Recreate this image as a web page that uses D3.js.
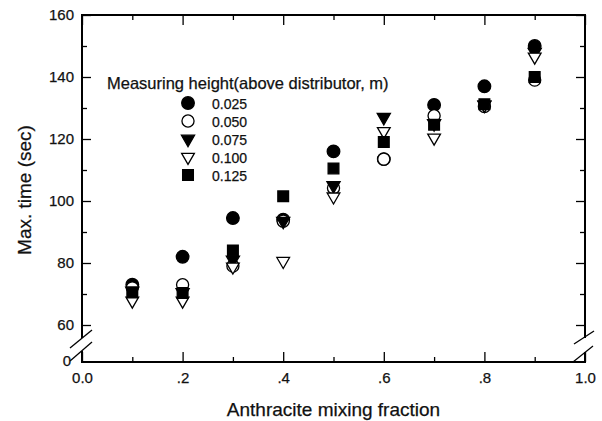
<!DOCTYPE html>
<meta charset="utf-8">
<head>
<style>
  body { margin: 0; background: #fff; }
  text { font-family: "Liberation Sans", Arial, Helvetica, sans-serif; fill: #111; stroke: #111; stroke-width: 0.25px; }
</style>
</head>
<body>
<script src="https://cdnjs.cloudflare.com/ajax/libs/d3/7.8.5/d3.min.js"></script>
<script>

// anthracite mixing fraction
var fractions = [0.1, 0.2, 0.3, 0.4, 0.5, 0.6, 0.7, 0.8, 0.9];
// measuring heights (legend)
var heights = ["0.025", "0.050", "0.075", "0.100", "0.125"];
// max. time (sec) per height
var t025 = [73, 82, 94.5, 94, 116, 113.5, 131, 137, 150];
var t050 = [72, 73, 79, 93.5, 104.2, 113.5, 127.5, 130.5, 139];
var t075 = [71, 70.5, 81, 93.5, 105, 127, 125, 131, 148];
var t100 = [67.8, 67.8, 78.8, 80.6, 101.4, 122.5, 120.4, 131, 146.5];
var t125 = [70.5, 70.3, 84, 101.5, 110.5, 119, 124.6, 131.2, 140];

var xTicks = [0, 0.2, 0.4, 0.6, 0.8, 1.0];
var xTickLabels = ["0.0", ".2", ".4", ".6", ".8", "1.0"];
var xMinor = [0.1, 0.3, 0.5, 0.7, 0.9];
var yTicks = [0, 60, 80, 100, 120, 140, 160];
var yMinor = [70, 90, 110, 130, 150];

var series = [t025, t050, t075, t100, t125];
var symbols = [
  {type: d3.symbolCircle, fill: "#000", rot: 0, size: 125},
  {type: d3.symbolCircle, fill: "#fff", rot: 0, size: 115},
  {type: d3.symbolTriangle, fill: "#000", rot: 180, size: 75},
  {type: d3.symbolTriangle, fill: "#fff", rot: 180, size: 70},
  {type: d3.symbolSquare, fill: "#000", rot: 0, size: 115}
];

var width = 602, height = 421;
var pLeft = 82, pRight = 585, pTop = 15, pBottom = 362;

var svg = d3.select("body").append("svg")
    .attr("width", width)
    .attr("height", height);

var x = d3.scaleLinear().domain([0, 1]).range([pLeft, pRight]);
// broken axis: 0 sits just below the break, 60..160 linear
var y = d3.scaleLinear().domain([0, 60, 160]).range([pBottom, 325, pTop]);

// frame (with breaks on the vertical sides)
var frame = svg.append("g")
    .attr("stroke", "#000")
    .attr("stroke-width", 2)
    .attr("fill", "none");

frame.append("path").attr("d",
  "M" + pLeft + ",338V" + pTop + "H" + pRight + "V338");
frame.append("path").attr("d",
  "M" + pLeft + ",351V" + pBottom + "H" + pRight + "V352");

// break marks
var brk = svg.append("g").attr("stroke", "#000").attr("stroke-width", 1.3);
brk.append("line").attr("x1", 70).attr("y1", 348).attr("x2", 92).attr("y2", 330);
brk.append("line").attr("x1", 70).attr("y1", 361).attr("x2", 92).attr("y2", 342);
brk.append("line").attr("x1", 574).attr("y1", 344).attr("x2", 594).attr("y2", 331);
brk.append("line").attr("x1", 573).attr("y1", 362).attr("x2", 593).attr("y2", 346);

// axes (ticks inward)
var fontSize = "15px";

var gx = svg.append("g").attr("transform", "translate(0," + pBottom + ")")
  .call(d3.axisBottom(x).tickValues(xTicks).tickSize(-10).tickPadding(10)
    .tickFormat(function(d, i) { return xTickLabels[i]; }));
gx.append("g").call(d3.axisBottom(x).tickValues(xMinor).tickSize(-5).tickFormat(""));

var gxt = svg.append("g").attr("transform", "translate(0," + pTop + ")")
  .call(d3.axisTop(x).tickValues(xTicks).tickSize(-10).tickFormat(""));
gxt.append("g").call(d3.axisTop(x).tickValues(xMinor).tickSize(-5).tickFormat(""));

var gy = svg.append("g").attr("transform", "translate(" + pLeft + ",0)")
  .call(d3.axisLeft(y).tickValues(yTicks).tickSize(-9).tickPadding(8));
gy.append("g").call(d3.axisLeft(y).tickValues(yMinor).tickSize(-5).tickFormat(""));

var gyr = svg.append("g").attr("transform", "translate(" + pRight + ",0)")
  .call(d3.axisRight(y).tickValues(yTicks.slice(1)).tickSize(-9).tickFormat(""));
gyr.append("g").call(d3.axisRight(y).tickValues(yMinor).tickSize(-5).tickFormat(""));

svg.selectAll(".domain").remove();
svg.selectAll(".tick line").attr("stroke", "#000").attr("stroke-width", 1.3);
svg.selectAll(".tick text").style("font-size", fontSize).attr("fill", "#111");
gy.selectAll(".tick").filter(function(d) { return d == 0; }).select("line").remove();
gy.selectAll(".tick").filter(function(d) { return d == 0; }).select("text").attr("x", -11).attr("dy", "0.2em");

// data points
series.forEach(function(vals, s) {
  var sym = symbols[s];
  svg.append("g").selectAll("path")
    .data(vals)
    .join("path")
    .attr("transform", function(d, i) {
      return "translate(" + x(fractions[i]) + "," + y(d) + ") rotate(" + sym.rot + ")";
    })
    .attr("d", d3.symbol().type(sym.type).size(sym.size))
    .attr("fill", sym.fill)
    .attr("stroke", "#000")
    .attr("stroke-width", 1.3);
});

// legend
svg.append("text")
  .attr("x", 107).attr("y", 89)
  .style("font-size", "16.5px")
  .text("Measuring height(above distributor, m)");

heights.forEach(function(h, i) {
  var sym = symbols[i];
  var yy = 103 + i * 18;
  svg.append("path")
    .attr("transform", "translate(188," + yy + ") rotate(" + sym.rot + ")")
    .attr("d", d3.symbol().type(sym.type).size(sym.size))
    .attr("fill", sym.fill)
    .attr("stroke", "#000")
    .attr("stroke-width", 1.3);
  svg.append("text")
    .attr("x", 212).attr("y", yy + 2)
    .attr("dominant-baseline", "middle")
    .style("font-size", "14px")
    .text(h);
});

// axis titles
svg.append("text")
  .attr("x", (pLeft + pRight) / 2).attr("y", 416)
  .attr("text-anchor", "middle")
  .style("font-size", "19px")
  .text("Anthracite mixing fraction");

svg.append("text")
  .attr("transform", "translate(31,190) rotate(-90)")
  .attr("text-anchor", "middle")
  .style("font-size", "19px")
  .text("Max. time (sec)");

</script>
</body>
